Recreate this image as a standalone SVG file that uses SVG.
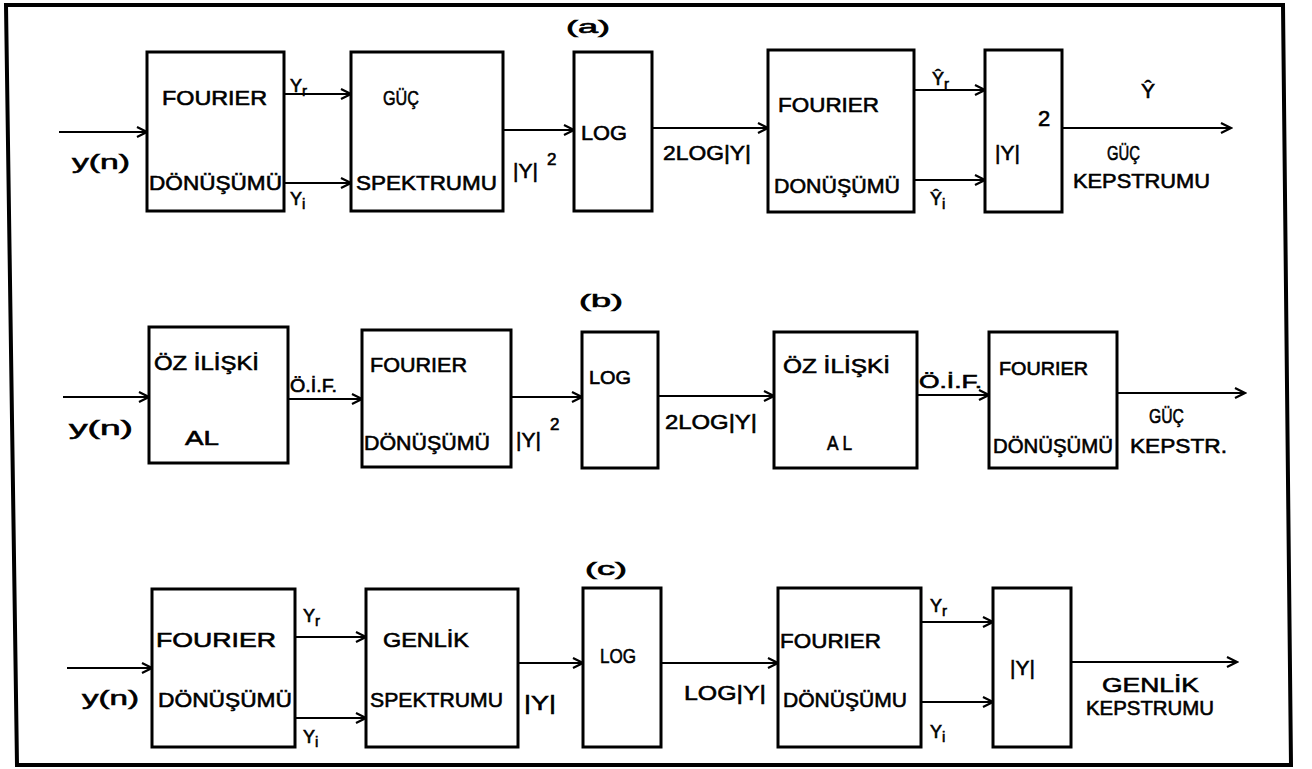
<svg xmlns="http://www.w3.org/2000/svg" width="1312" height="769" viewBox="0 0 1312 769">
<defs>
<marker id="ah" markerUnits="userSpaceOnUse" markerWidth="14" markerHeight="14" viewBox="0 0 14 14" refX="12" refY="7" orient="auto">
<path d="M2,2 L12,7 L2,12" fill="none" stroke="#000" stroke-width="2.2"/>
</marker>
</defs>
<style>
.box{fill:#fff;stroke:#000;stroke-width:3}
.ln{fill:none;stroke:#000;stroke-width:2.2;marker-end:url(#ah)}
text{font-family:"Liberation Sans","DejaVu Sans",sans-serif;font-size:21px;fill:#000;stroke:#000;stroke-width:0.6}
.s{font-size:15px}
.m{font-size:18px}
</style>
<rect width="1312" height="769" fill="#fff"/>
<path d="M6,5 L1283,5 L1291,765 L17,765 Z" fill="none" stroke="#000" stroke-width="4"/>

<text x="566" y="33" textLength="44" lengthAdjust="spacingAndGlyphs" class="m">(a)</text>
<text x="579" y="307" textLength="44" lengthAdjust="spacingAndGlyphs" class="m">(b)</text>
<text x="585" y="575" textLength="42" lengthAdjust="spacingAndGlyphs" class="m">(c)</text>

<g id="connectors">
<line class="ln" x1="59" y1="132" x2="147" y2="132"/>
<line class="ln" x1="284" y1="94" x2="351" y2="94"/>
<line class="ln" x1="284" y1="183" x2="351" y2="183"/>
<line class="ln" x1="503" y1="130" x2="574" y2="130"/>
<line class="ln" x1="652" y1="128" x2="768" y2="128"/>
<line class="ln" x1="914" y1="90" x2="985" y2="90"/>
<line class="ln" x1="914" y1="180" x2="985" y2="180"/>
<line class="ln" x1="1062" y1="128" x2="1231" y2="128"/>

<line class="ln" x1="63" y1="397" x2="149" y2="397"/>
<line class="ln" x1="288" y1="399" x2="362" y2="399"/>
<line class="ln" x1="511" y1="397" x2="582" y2="397"/>
<line class="ln" x1="658" y1="396" x2="774" y2="396"/>
<line class="ln" x1="917" y1="395" x2="989" y2="395"/>
<line class="ln" x1="1117" y1="393" x2="1245" y2="393"/>

<line class="ln" x1="67" y1="668" x2="152" y2="668"/>
<line class="ln" x1="295" y1="637" x2="366" y2="637"/>
<line class="ln" x1="295" y1="718" x2="366" y2="718"/>
<line class="ln" x1="518" y1="663" x2="583" y2="663"/>
<line class="ln" x1="661" y1="663" x2="778" y2="663"/>
<line class="ln" x1="921" y1="622" x2="993" y2="622"/>
<line class="ln" x1="921" y1="702" x2="993" y2="702"/>
<line class="ln" x1="1071" y1="662" x2="1237" y2="662"/>

<text x="72" y="169" textLength="58" lengthAdjust="spacingAndGlyphs">y(n)</text>
<text x="290" y="92" class="m">Y<tspan class="s" dy="4">r</tspan></text>
<text x="290" y="205" class="m">Y<tspan class="s" dy="4">i</tspan></text>
<text x="513" y="178" font-size="24">|Y|<tspan x="547" y="165" font-size="17">2</tspan></text>
<text x="663" y="160" textLength="88" lengthAdjust="spacingAndGlyphs" font-size="22">2LOG|Y|</text>
<text x="932" y="85" class="m">Ŷ<tspan class="s" dy="4">r</tspan></text>
<text x="930" y="205" class="m">Ŷ<tspan class="s" dy="4">i</tspan></text>
<text x="1141" y="98" font-size="32">Ŷ</text>
<text x="1107" y="160" textLength="33" lengthAdjust="spacingAndGlyphs">GÜÇ</text>
<text x="1073" y="188" textLength="137" lengthAdjust="spacingAndGlyphs">KEPSTRUMU</text>

<text x="69" y="435" textLength="64" lengthAdjust="spacingAndGlyphs">y(n)</text>
<text x="290" y="392" textLength="47" lengthAdjust="spacingAndGlyphs" class="m">Ö.İ.F.</text>
<text x="516" y="447" font-size="23">|Y|<tspan x="550" y="430" font-size="17">2</tspan></text>
<text x="665" y="429" textLength="92" lengthAdjust="spacingAndGlyphs" font-size="22">2LOG|Y|</text>
<text x="919" y="388" textLength="63" lengthAdjust="spacingAndGlyphs" class="m">Ö.İ.F.</text>
<text x="1149" y="423" textLength="35" lengthAdjust="spacingAndGlyphs">GÜÇ</text>
<text x="1130" y="453" textLength="97" lengthAdjust="spacingAndGlyphs">KEPSTR.</text>

<text x="82" y="705" textLength="57" lengthAdjust="spacingAndGlyphs">y(n)</text>
<text x="303" y="622" class="m">Y<tspan class="s" dy="4">r</tspan></text>
<text x="303" y="743" class="m">Y<tspan class="s" dy="4">i</tspan></text>
<text x="524" y="710" textLength="32" lengthAdjust="spacingAndGlyphs" font-size="24">|Y|</text>
<text x="684" y="700" textLength="82" lengthAdjust="spacingAndGlyphs">LOG|Y|</text>
<text x="930" y="612" class="m">Y<tspan class="s" dy="4">r</tspan></text>
<text x="930" y="738" class="m">Y<tspan class="s" dy="4">i</tspan></text>
<text x="1102" y="692" textLength="97" lengthAdjust="spacingAndGlyphs" font-size="24">GENLİK</text>
<text x="1086" y="715" textLength="128" lengthAdjust="spacingAndGlyphs">KEPSTRUMU</text>
</g>

<g id="a1"><rect class="box" x="147" y="52" width="137" height="159"/>
<text x="162" y="105" textLength="105" lengthAdjust="spacingAndGlyphs">FOURIER</text>
<text x="149" y="190" textLength="133" lengthAdjust="spacingAndGlyphs">DÖNÜŞÜMÜ</text></g>
<g id="a2"><rect class="box" x="351" y="52" width="152" height="159"/>
<text x="383" y="105" textLength="36" lengthAdjust="spacingAndGlyphs">GÜÇ</text>
<text x="356" y="190" textLength="141" lengthAdjust="spacingAndGlyphs">SPEKTRUMU</text></g>
<g id="a3"><rect class="box" x="574" y="52" width="78" height="159"/>
<text x="581" y="140" textLength="46" lengthAdjust="spacingAndGlyphs">LOG</text></g>
<g id="a4"><rect class="box" x="768" y="50" width="146" height="162"/>
<text x="778" y="112" textLength="101" lengthAdjust="spacingAndGlyphs">FOURIER</text>
<text x="774" y="193" textLength="126" lengthAdjust="spacingAndGlyphs">DONÜŞÜMÜ</text></g>
<g id="a5"><rect class="box" x="985" y="50" width="77" height="162"/>
<text x="995" y="160" font-size="34">|Y|<tspan x="1038" y="126" font-size="22">2</tspan></text></g>

<g id="b1"><rect class="box" x="149" y="327" width="139" height="136"/>
<text x="154" y="370" textLength="105" lengthAdjust="spacingAndGlyphs">ÖZ İLİŞKİ</text>
<text x="185" y="445" textLength="34" lengthAdjust="spacingAndGlyphs">AL</text></g>
<g id="b2"><rect class="box" x="362" y="330" width="149" height="137"/>
<text x="370" y="372" textLength="97" lengthAdjust="spacingAndGlyphs">FOURIER</text>
<text x="364" y="450" textLength="126" lengthAdjust="spacingAndGlyphs">DÖNÜŞÜMÜ</text></g>
<g id="b3"><rect class="box" x="582" y="332" width="76" height="136"/>
<text x="589" y="384" textLength="42" lengthAdjust="spacingAndGlyphs" class="m">LOG</text></g>
<g id="b4"><rect class="box" x="774" y="332" width="143" height="136"/>
<text x="783" y="373" textLength="107" lengthAdjust="spacingAndGlyphs">ÖZ İLİŞKİ</text>
<text x="827" y="450" textLength="25" lengthAdjust="spacingAndGlyphs">A L</text></g>
<g id="b5"><rect class="box" x="989" y="332" width="128" height="136"/>
<text x="999" y="375" textLength="89" lengthAdjust="spacingAndGlyphs" class="m">FOURIER</text>
<text x="993" y="453" textLength="120" lengthAdjust="spacingAndGlyphs">DÖNÜŞÜMÜ</text></g>

<g id="c1"><rect class="box" x="152" y="589" width="143" height="158"/>
<text x="156" y="647" textLength="120" lengthAdjust="spacingAndGlyphs">FOURIER</text>
<text x="158" y="707" textLength="134" lengthAdjust="spacingAndGlyphs">DÖNÜŞÜMÜ</text></g>
<g id="c2"><rect class="box" x="366" y="589" width="152" height="158"/>
<text x="383" y="647" textLength="86" lengthAdjust="spacingAndGlyphs">GENLİK</text>
<text x="370" y="707" textLength="133" lengthAdjust="spacingAndGlyphs">SPEKTRUMU</text></g>
<g id="c3"><rect class="box" x="583" y="588" width="78" height="159"/>
<text x="600" y="663" textLength="36" lengthAdjust="spacingAndGlyphs">LOG</text></g>
<g id="c4"><rect class="box" x="778" y="588" width="143" height="159"/>
<text x="780" y="648" textLength="101" lengthAdjust="spacingAndGlyphs">FOURIER</text>
<text x="783" y="707" textLength="124" lengthAdjust="spacingAndGlyphs">DÖNÜŞÜMU</text></g>
<g id="c5"><rect class="box" x="993" y="588" width="78" height="159"/>
<text x="1010" y="675" font-size="28">|Y|</text></g>
</svg>
